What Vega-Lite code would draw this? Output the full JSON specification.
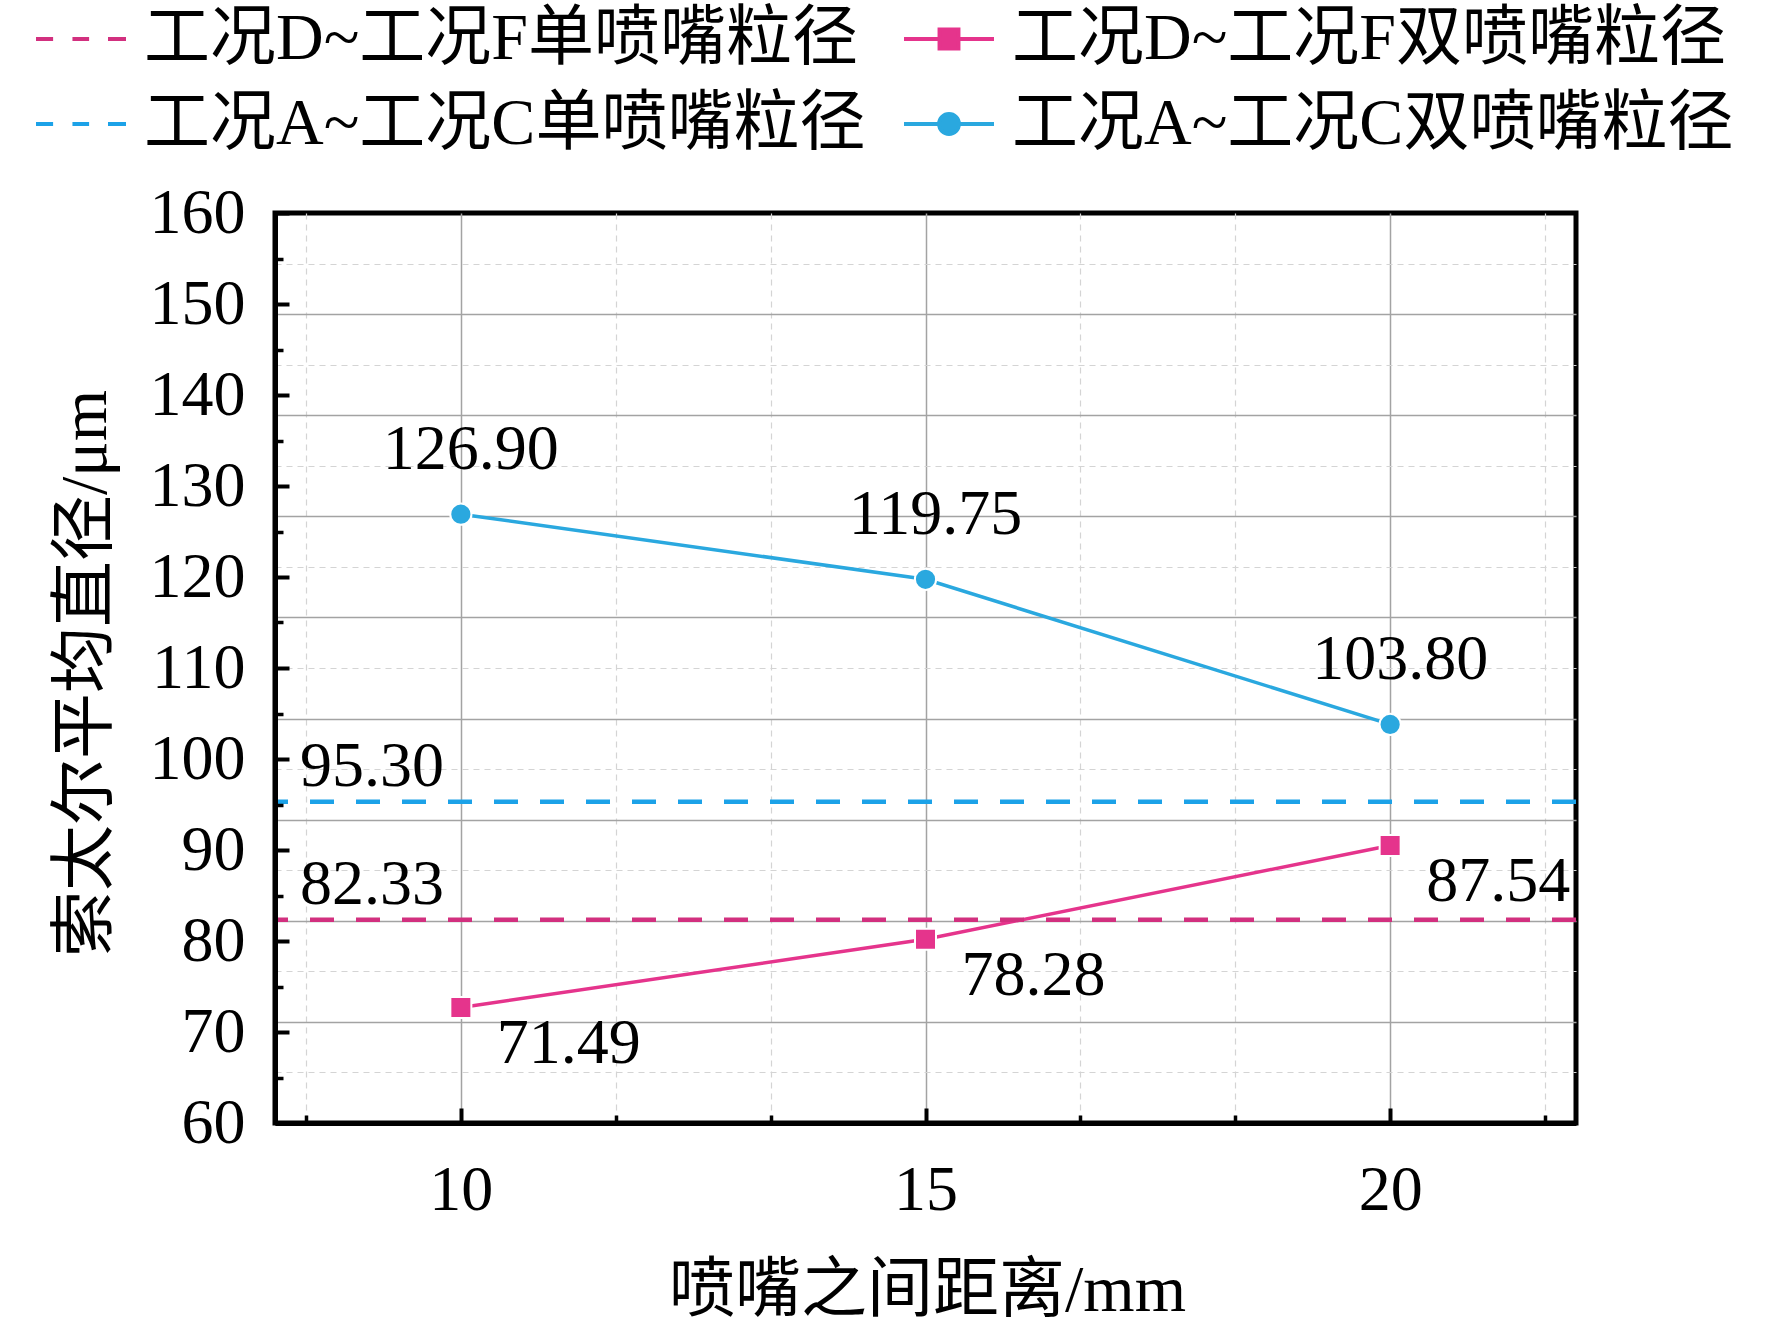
{
  "$schema": "https://vega.github.io/schema/vega-lite/v6.json",
  "autosize": {"type": "none"},
  "padding": {"left": 275, "top": 213, "right": 196, "bottom": 204},
  "width": 1301,
  "height": 910,
  "background": "white",
  "config": {
    "view": {"stroke": "black", "strokeWidth": 5},
    "font": "Liberation Serif, Noto Sans CJK SC",
    "axis": {
      "domain": false, "ticks": false, "labels": false, "grid": false, "title": null,
      "labelFont": "Liberation Serif, Noto Sans CJK SC",
      "titleFont": "Liberation Serif, Noto Sans CJK SC",
      "labelFontSize": 64, "titleFontSize": 66, "titleFontWeight": "normal",
      "labelColor": "black", "titleColor": "black", "tickColor": "black",
      "labelFlush": false, "labelOverlap": false
    },
    "text": {"font": "Liberation Serif, Noto Sans CJK SC", "fontSize": 64, "color": "black"}
  },
  "datasets": {
    "lines": [
      {"series": "工况A~工况C双喷嘴粒径", "d": 10, "v": 126.9, "label": "126.90"},
      {"series": "工况A~工况C双喷嘴粒径", "d": 15, "v": 119.75, "label": "119.75"},
      {"series": "工况A~工况C双喷嘴粒径", "d": 20, "v": 103.8, "label": "103.80"},
      {"series": "工况D~工况F双喷嘴粒径", "d": 10, "v": 72.7, "label": "71.49"},
      {"series": "工况D~工况F双喷嘴粒径", "d": 15, "v": 80.2, "label": "78.28"},
      {"series": "工况D~工况F双喷嘴粒径", "d": 20, "v": 90.5, "label": "87.54"}
    ],
    "single": [
      {"series": "工况D~工况F单喷嘴粒径", "v": 82.33, "label": "82.33"},
      {"series": "工况A~工况C单喷嘴粒径", "v": 95.3, "label": "95.30"}
    ]
  },
  "resolve": {"axis": {"x": "independent", "y": "independent"}},
  "layer": [
    {
      "data": {"name": "lines"},
      "mark": {"type": "line", "strokeWidth": 3.5},
      "encoding": {
        "x": {"field": "d", "type": "quantitative", "scale": {"domain": [8, 22], "nice": false, "zero": false},
          "axis": {"orient": "bottom", "grid": true, "values": [10, 15, 20], "gridColor": "#a3a3a3", "gridWidth": 1.5}},
        "y": {"field": "v", "type": "quantitative", "scale": {"domain": [60, 160], "nice": false, "zero": false},
          "axis": {"orient": "left", "grid": true, "gridColor": "#a3a3a3", "gridWidth": 1.5,
            "values": [71.111, 82.222, 93.333, 104.444, 115.556, 126.667, 137.778, 148.889]}},
        "color": {"field": "series", "type": "nominal", "legend": null,
          "scale": {"domain": ["工况A~工况C双喷嘴粒径", "工况A~工况C单喷嘴粒径", "工况D~工况F双喷嘴粒径", "工况D~工况F单喷嘴粒径"],
            "range": ["#2aa8df", "#1ca2e8", "#e5348c", "#d2307f"]}},
        "detail": {"field": "series"}
      }
    },
    {
      "data": {"name": "single"},
      "mark": {"type": "rule", "strokeWidth": 4.5, "strokeDash": [24, 22]},
      "encoding": {
        "y": {"field": "v", "type": "quantitative", "scale": {"domain": [60, 160], "nice": false, "zero": false}, "axis": null},
        "color": {"field": "series", "type": "nominal", "legend": null,
          "scale": {"domain": ["工况A~工况C双喷嘴粒径", "工况A~工况C单喷嘴粒径", "工况D~工况F双喷嘴粒径", "工况D~工况F单喷嘴粒径"],
            "range": ["#2aa8df", "#1ca2e8", "#e5348c", "#d2307f"]}}
      }
    },
    {
      "data": {"name": "lines"},
      "transform": [{"filter": {"field": "series", "equal": "工况A~工况C双喷嘴粒径"}}],
      "mark": {"type": "point", "shape": "circle", "filled": true, "size": 450, "opacity": 1, "stroke": "white", "strokeWidth": 2},
      "encoding": {
        "x": {"field": "d", "type": "quantitative", "scale": {"domain": [8, 22], "nice": false, "zero": false},
          "axis": {"orient": "bottom", "grid": true, "gridColor": "#d4d4d4", "gridWidth": 1.2, "gridDash": [6, 5],
            "values": [8.333, 11.667, 13.333, 16.667, 18.333, 21.667]}},
        "y": {"field": "v", "type": "quantitative", "scale": {"domain": [60, 160], "nice": false, "zero": false},
          "axis": {"orient": "left", "grid": true, "gridColor": "#d4d4d4", "gridWidth": 1.2, "gridDash": [6, 5],
            "values": [65.556, 76.667, 87.778, 98.889, 110, 121.111, 132.222, 143.333, 154.444]}},
        "color": {"field": "series", "type": "nominal", "legend": null,
          "scale": {"domain": ["工况A~工况C双喷嘴粒径", "工况A~工况C单喷嘴粒径", "工况D~工况F双喷嘴粒径", "工况D~工况F单喷嘴粒径"],
            "range": ["#2aa8df", "#1ca2e8", "#e5348c", "#d2307f"]}}
      }
    },
    {
      "data": {"name": "lines"},
      "transform": [{"filter": {"field": "series", "equal": "工况D~工况F双喷嘴粒径"}}],
      "mark": {"type": "point", "shape": "square", "filled": true, "size": 441, "opacity": 1, "stroke": "white", "strokeWidth": 2},
      "encoding": {
        "x": {"field": "d", "type": "quantitative", "scale": {"domain": [8, 22], "nice": false, "zero": false},
          "axis": {"orient": "bottom", "values": [10, 15, 20], "format": "d", "zindex": 1,
            "domain": true, "domainColor": "black", "domainWidth": 5,
            "ticks": true, "tickSize": -15, "tickWidth": 4, "labels": true, "labelPadding": 50,
            "title": "喷嘴之间距离/mm", "titleX": 652, "titleY": 167, "titleBaseline": "middle", "titleAlign": "center"}},
        "y": {"field": "v", "type": "quantitative", "scale": {"domain": [60, 160], "nice": false, "zero": false},
          "axis": {"orient": "left", "values": [60, 70, 80, 90, 100, 110, 120, 130, 140, 150, 160], "format": "d", "zindex": 1,
            "domain": true, "domainColor": "black", "domainWidth": 5,
            "ticks": true, "tickSize": -14, "tickWidth": 4, "labels": true, "labelPadding": 44,
            "title": "索太尔平均直径/μm", "titleX": -190, "titleY": 460, "titleAngle": -90, "titleBaseline": "middle", "titleAlign": "center"}},
        "color": {"field": "series", "type": "nominal", "legend": null,
          "scale": {"domain": ["工况A~工况C双喷嘴粒径", "工况A~工况C单喷嘴粒径", "工况D~工况F双喷嘴粒径", "工况D~工况F单喷嘴粒径"],
            "range": ["#2aa8df", "#1ca2e8", "#e5348c", "#d2307f"]}}
      }
    },
    {
      "data": {"name": "lines"},
      "transform": [{"filter": {"field": "series", "equal": "工况A~工况C双喷嘴粒径"}}],
      "mark": {"type": "text", "align": "center", "baseline": "middle", "dx": 10, "dy": -64},
      "encoding": {
        "x": {"field": "d", "type": "quantitative", "scale": {"domain": [8, 22], "nice": false, "zero": false},
          "axis": {"orient": "bottom", "ticks": true, "tickSize": -8, "tickWidth": 3.5, "zindex": 1,
            "values": [8.333, 11.667, 13.333, 16.667, 18.333, 21.667]}},
        "y": {"field": "v", "type": "quantitative", "scale": {"domain": [60, 160], "nice": false, "zero": false},
          "axis": {"orient": "left", "ticks": true, "tickSize": -8, "tickWidth": 3.5, "zindex": 1,
            "values": [65, 75, 85, 95, 105, 115, 125, 135, 145, 155]}},
        "text": {"field": "label"}
      }
    },
    {
      "data": {"name": "lines"},
      "transform": [{"filter": {"field": "series", "equal": "工况D~工况F双喷嘴粒径"}}],
      "mark": {"type": "text", "align": "center", "baseline": "middle", "dx": 108, "dy": 37},
      "encoding": {
        "x": {"field": "d", "type": "quantitative", "scale": {"domain": [8, 22], "nice": false, "zero": false}, "axis": null},
        "y": {"field": "v", "type": "quantitative", "scale": {"domain": [60, 160], "nice": false, "zero": false}, "axis": null},
        "text": {"field": "label"}
      }
    },
    {
      "data": {"name": "single"},
      "mark": {"type": "text", "align": "left", "baseline": "middle", "dx": 25, "dy": -35},
      "encoding": {
        "x": {"datum": 8, "type": "quantitative", "scale": {"domain": [8, 22], "nice": false, "zero": false}, "axis": null},
        "y": {"field": "v", "type": "quantitative", "scale": {"domain": [60, 160], "nice": false, "zero": false}, "axis": null},
        "text": {"field": "label"}
      }
    },
    {
      "data": {"name": "single"},
      "mark": {"type": "point", "filled": true, "opacity": 0},
      "encoding": {
        "x": {"datum": 8, "type": "quantitative", "scale": {"domain": [8, 22], "nice": false, "zero": false}, "axis": null},
        "y": {"field": "v", "type": "quantitative", "scale": {"domain": [60, 160], "nice": false, "zero": false}, "axis": null},
        "fill": {"field": "series", "type": "nominal",
          "legend": {"title": null, "orient": "none", "legendX": -241, "legendY": -221, "direction": "horizontal",
            "columns": 2, "columnPadding": 30, "rowPadding": 5,
            "labelFont": "Liberation Serif, Noto Sans CJK SC", "labelFontSize": 66, "labelColor": "black",
            "labelLimit": 2000, "labelOffset": 16, "symbolSize": 8100, "symbolStrokeWidth": 4, "symbolOpacity": 1},
          "scale": {"domain": ["工况D~工况F单喷嘴粒径", "工况D~工况F双喷嘴粒径", "工况A~工况C单喷嘴粒径", "工况A~工况C双喷嘴粒径"],
            "range": ["#d2307f", "#e5348c", "#1ca2e8", "#2aa8df"]}},
        "stroke": {"field": "series", "type": "nominal",
          "legend": {"title": null, "orient": "none", "legendX": -241, "legendY": -221, "direction": "horizontal",
            "columns": 2, "columnPadding": 30, "rowPadding": 5,
            "labelFont": "Liberation Serif, Noto Sans CJK SC", "labelFontSize": 66, "labelColor": "black",
            "labelLimit": 2000, "labelOffset": 16, "symbolSize": 8100, "symbolStrokeWidth": 4, "symbolOpacity": 1},
          "scale": {"domain": ["工况D~工况F单喷嘴粒径", "工况D~工况F双喷嘴粒径", "工况A~工况C单喷嘴粒径", "工况A~工况C双喷嘴粒径"],
            "range": ["#d2307f", "#e5348c", "#1ca2e8", "#2aa8df"]}},
        "shape": {"field": "series", "type": "nominal",
          "legend": {"title": null, "orient": "none", "legendX": -241, "legendY": -221, "direction": "horizontal",
            "columns": 2, "columnPadding": 30, "rowPadding": 5,
            "labelFont": "Liberation Serif, Noto Sans CJK SC", "labelFontSize": 66, "labelColor": "black",
            "labelLimit": 2000, "labelOffset": 16, "symbolSize": 8100, "symbolStrokeWidth": 4, "symbolOpacity": 1},
          "scale": {"domain": ["工况D~工况F单喷嘴粒径", "工况D~工况F双喷嘴粒径", "工况A~工况C单喷嘴粒径", "工况A~工况C双喷嘴粒径"],
            "range": [
              "M-1,0H-0.62M-0.19,0H0.18M0.6,0H1",
              "M-1,0H1M-0.21,-0.21H0.21V0.21H-0.21Z",
              "M-1,0H-0.62M-0.19,0H0.18M0.6,0H1",
              "M-1,0H1M0.22,0A0.22,0.22,0,1,1,-0.22,0A0.22,0.22,0,1,1,0.22,0Z"
            ]}}
      }
    }
  ]
}
